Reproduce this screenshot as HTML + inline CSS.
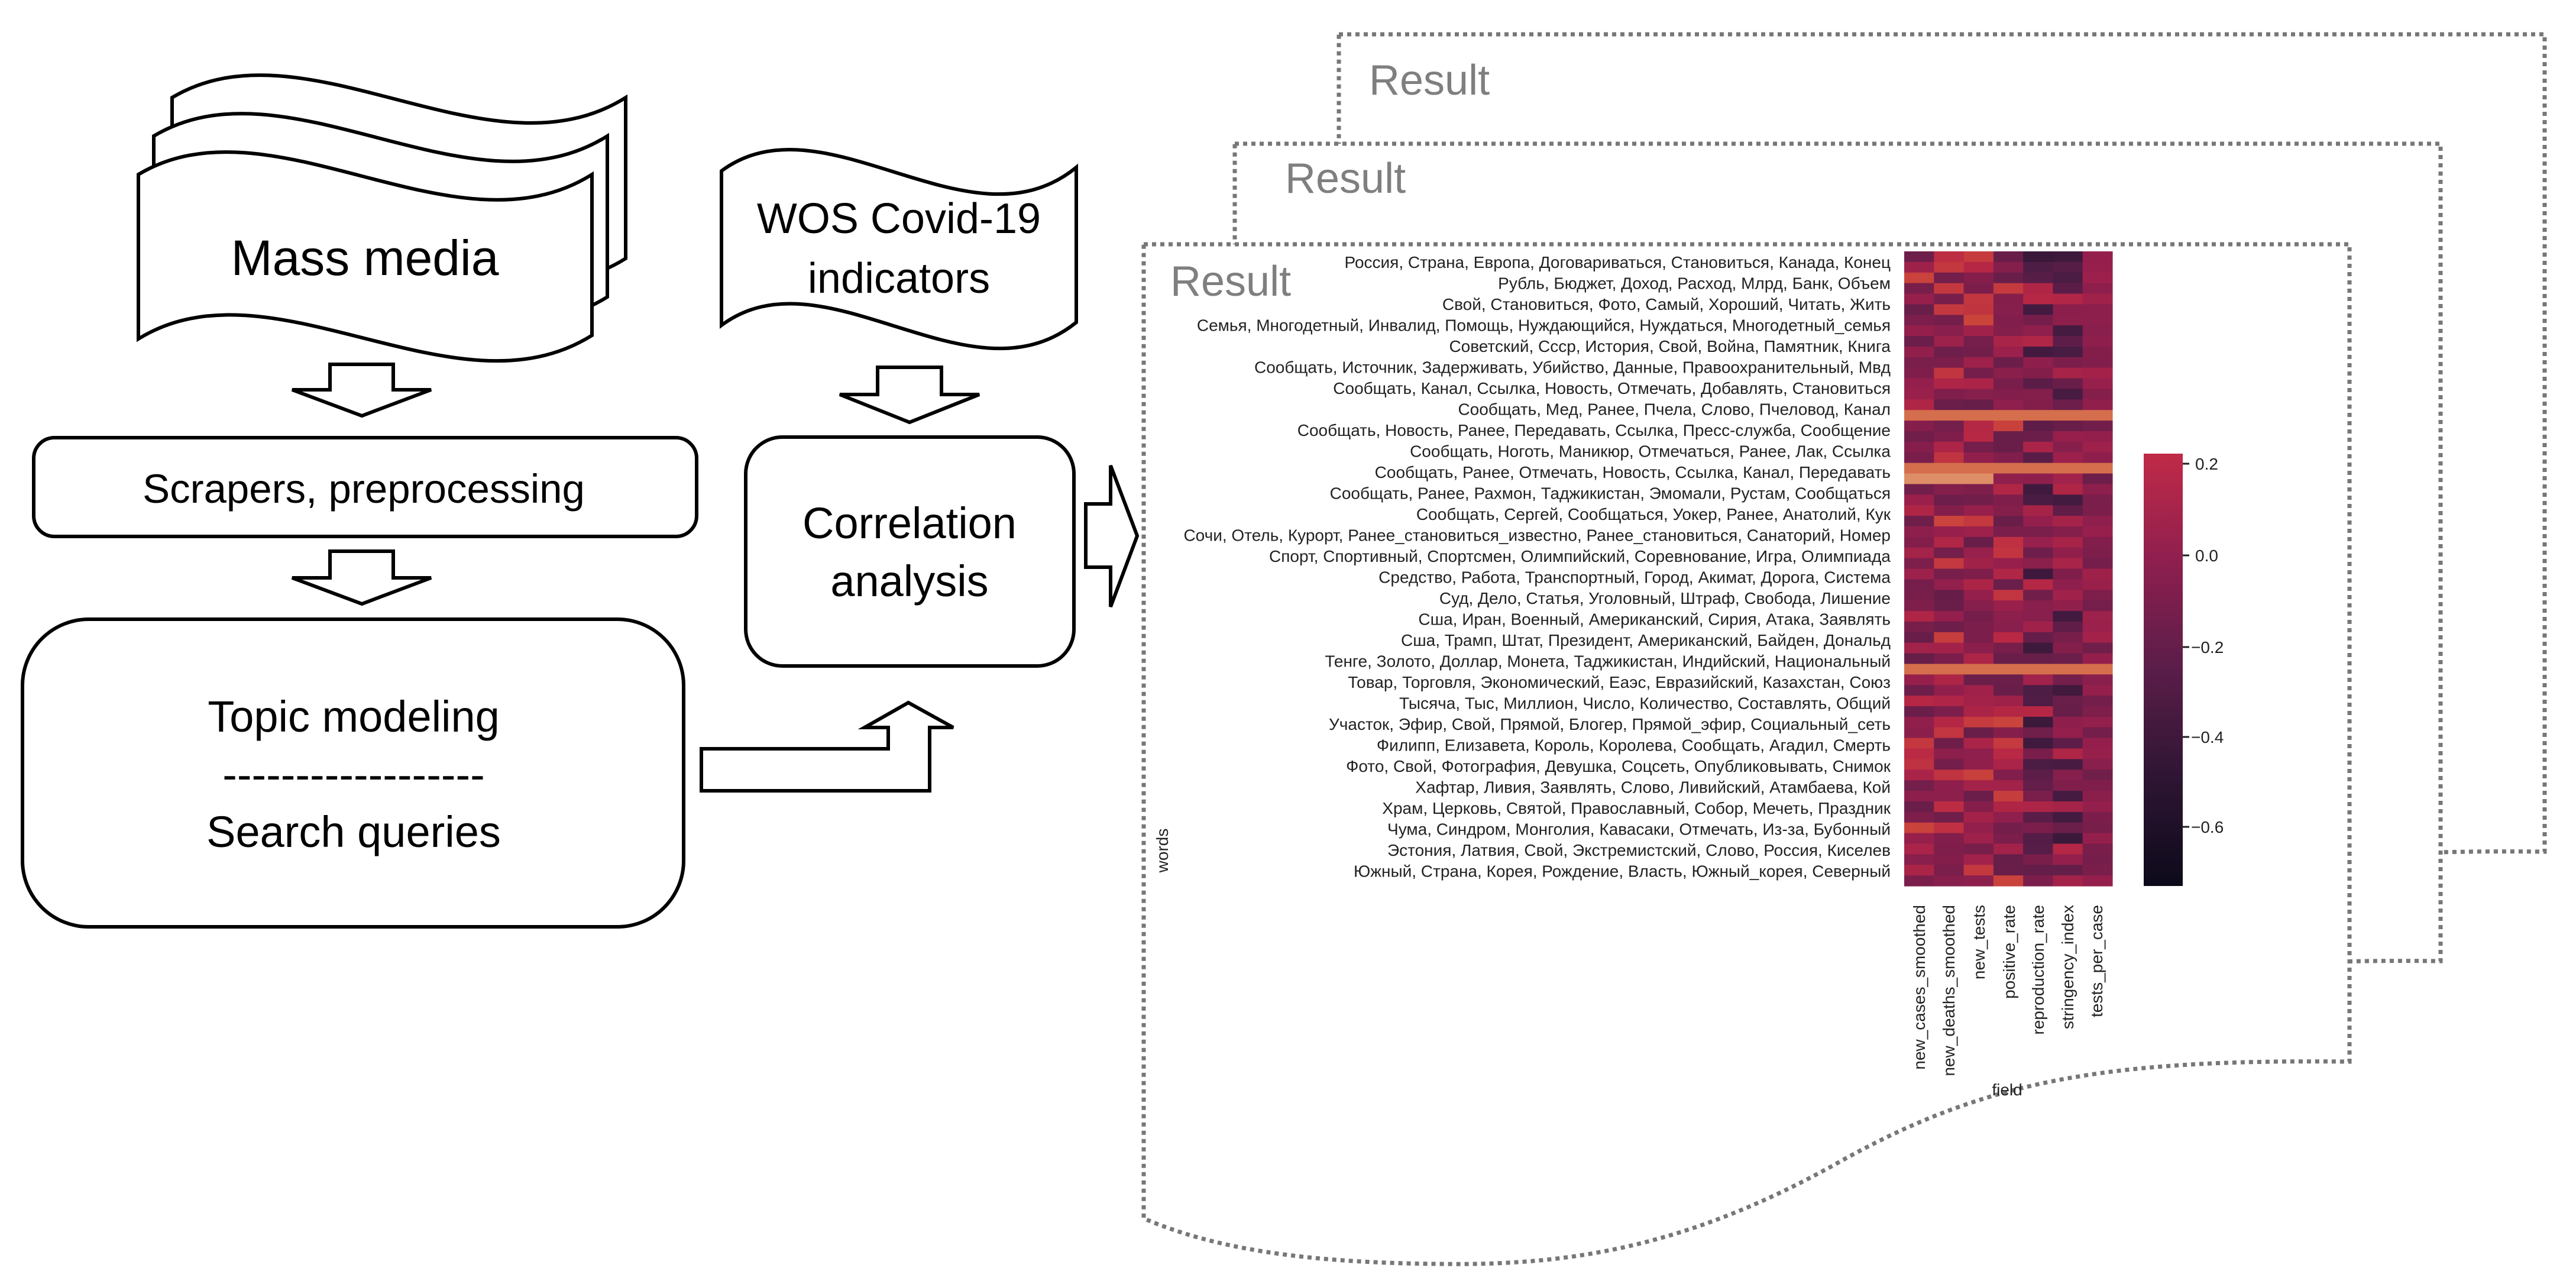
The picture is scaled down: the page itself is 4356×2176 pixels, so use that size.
<!DOCTYPE html>
<html><head><meta charset="utf-8">
<style>
html,body{margin:0;padding:0;background:#fff;}
svg{display:block;}
.lt{font-family:"Liberation Sans",sans-serif;fill:#000;}
.res{font-family:"Liberation Sans",sans-serif;fill:#7f7f7f;font-size:72px;}
.lab{font-family:"Liberation Sans","DejaVu Sans",sans-serif;fill:#222;font-size:28px;}
</style></head>
<body>
<svg id="s" width="4356" height="2176" viewBox="0 0 4356 2176" xmlns="http://www.w3.org/2000/svg">
<g fill="#fff" stroke="#000" stroke-width="6" stroke-linejoin="miter">
  <path transform="translate(57,-130)" d="M234,295 C460,160 770,440 1001,295 L1001,567 C770,712 460,433 234,573 Z"/>
  <path transform="translate(26,-65)" d="M234,295 C460,160 770,440 1001,295 L1001,567 C770,712 460,433 234,573 Z"/>
  <path d="M234,295 C460,160 770,440 1001,295 L1001,567 C770,712 460,433 234,573 Z"/>
  <path d="M1220,289 C1395,160 1640,430 1820,283 L1820,545 C1640,690 1395,420 1220,550 Z"/>
  <polygon points="558,616 665,616 665,659 729,659 612,703 494,659 558,659"/>
  <polygon points="558,932 665,932 665,977 729,977 612,1021 494,977 558,977"/>
  <polygon points="1484,621 1592,621 1592,667 1656,667 1538,714 1420,667 1484,667"/>
  <rect x="57" y="740" width="1121" height="167" rx="35"/>
  <rect x="38" y="1047" width="1118" height="520" rx="112"/>
  <rect x="1261" y="739" width="555" height="387" rx="62"/>
  <polygon points="1836,852 1878,852 1878,787 1923,906 1878,1026 1878,959 1836,959"/>
  <polygon points="1186,1266 1502,1266 1502,1230 1462,1230 1536,1188 1612,1230 1572,1230 1572,1337 1186,1337"/>
</g>
<g class="lt" text-anchor="middle">
  <text x="617" y="465" font-size="84">Mass media</text>
  <text x="1520" y="394" font-size="72">WOS Covid-19</text>
  <text x="1520" y="495" font-size="72">indicators</text>
  <text x="615" y="850" font-size="69">Scrapers, preprocessing</text>
  <text x="598" y="1237" font-size="74">Topic modeling</text>
  <text x="598" y="1335" font-size="74">------------------</text>
  <text x="598" y="1432" font-size="74">Search queries</text>
  <text x="1538" y="910" font-size="74">Correlation</text>
  <text x="1538" y="1008" font-size="74">analysis</text>
</g>
<g fill="#fff" stroke="#777" stroke-width="7" stroke-dasharray="7 7">
  <path transform="translate(330,-355)" d="M1934,413 H3973 V1795 C3550,1790 3350,1830 3106,1967 C2850,2110 2650,2140 2436,2137 C2200,2135 2050,2110 1934,2060 Z"/>
  <path transform="translate(154,-170)" d="M1934,413 H3973 V1795 C3550,1790 3350,1830 3106,1967 C2850,2110 2650,2140 2436,2137 C2200,2135 2050,2110 1934,2060 Z"/>
  <path d="M1934,413 H3973 V1795 C3550,1790 3350,1830 3106,1967 C2850,2110 2650,2140 2436,2137 C2200,2135 2050,2110 1934,2060 Z"/>
</g>
<text class="res" x="2315" y="160">Result</text>
<text class="res" x="2173" y="326">Result</text>
<text class="res" x="1979" y="500">Result</text>
<g id="hm"></g>
<g class="lab" text-anchor="end" id="labs"></g>
<defs>
<linearGradient id="cb" x1="0" y1="1" x2="0" y2="0">
<stop offset="0" stop-color="#0c0a1a"/>
<stop offset="0.25" stop-color="#2e1533"/>
<stop offset="0.5" stop-color="#5a1d49"/>
<stop offset="0.75" stop-color="#8e1f4f"/>
<stop offset="1" stop-color="#c02a47"/>
</linearGradient>
</defs>
<rect x="3625" y="767" width="66" height="731" fill="url(#cb)"/>
<g stroke="#222" stroke-width="3">
<line x1="3691" y1="784" x2="3702" y2="784"/>
<line x1="3691" y1="939" x2="3702" y2="939"/>
<line x1="3691" y1="1094" x2="3702" y2="1094"/>
<line x1="3691" y1="1246" x2="3702" y2="1246"/>
<line x1="3691" y1="1398" x2="3702" y2="1398"/>
</g>
<g class="lab">
<text x="3712" y="794">0.2</text>
<text x="3712" y="949">0.0</text>
<text x="3705" y="1104">−0.2</text>
<text x="3705" y="1256">−0.4</text>
<text x="3705" y="1408">−0.6</text>
</g>
<g class="lab" id="cols"></g>
<text class="lab" x="3394" y="1852" text-anchor="middle">field</text>
<text class="lab" transform="translate(1975,1438) rotate(-90)" text-anchor="middle">words</text>
</svg>
<script>
var NS="http://www.w3.org/2000/svg";
var labels=["Россия, Страна, Европа, Договариваться, Становиться, Канада, Конец",
"Рубль, Бюджет, Доход, Расход, Млрд, Банк, Объем",
"Свой, Становиться, Фото, Самый, Хороший, Читать, Жить",
"Семья, Многодетный, Инвалид, Помощь, Нуждающийся, Нуждаться, Многодетный_семья",
"Советский, Ссср, История, Свой, Война, Памятник, Книга",
"Сообщать, Источник, Задерживать, Убийство, Данные, Правоохранительный, Мвд",
"Сообщать, Канал, Ссылка, Новость, Отмечать, Добавлять, Становиться",
"Сообщать, Мед, Ранее, Пчела, Слово, Пчеловод, Канал",
"Сообщать, Новость, Ранее, Передавать, Ссылка, Пресс-служба, Сообщение",
"Сообщать, Ноготь, Маникюр, Отмечаться, Ранее, Лак, Ссылка",
"Сообщать, Ранее, Отмечать, Новость, Ссылка, Канал, Передавать",
"Сообщать, Ранее, Рахмон, Таджикистан, Эмомали, Рустам, Сообщаться",
"Сообщать, Сергей, Сообщаться, Уокер, Ранее, Анатолий, Кук",
"Сочи, Отель, Курорт, Ранее_становиться_известно, Ранее_становиться, Санаторий, Номер",
"Спорт, Спортивный, Спортсмен, Олимпийский, Соревнование, Игра, Олимпиада",
"Средство, Работа, Транспортный, Город, Акимат, Дорога, Система",
"Суд, Дело, Статья, Уголовный, Штраф, Свобода, Лишение",
"Сша, Иран, Военный, Американский, Сирия, Атака, Заявлять",
"Сша, Трамп, Штат, Президент, Американский, Байден, Дональд",
"Тенге, Золото, Доллар, Монета, Таджикистан, Индийский, Национальный",
"Товар, Торговля, Экономический, Еаэс, Евразийский, Казахстан, Союз",
"Тысяча, Тыс, Миллион, Число, Количество, Составлять, Общий",
"Участок, Эфир, Свой, Прямой, Блогер, Прямой_эфир, Социальный_сеть",
"Филипп, Елизавета, Король, Королева, Сообщать, Агадил, Смерть",
"Фото, Свой, Фотография, Девушка, Соцсеть, Опубликовывать, Снимок",
"Хафтар, Ливия, Заявлять, Слово, Ливийский, Атамбаева, Кой",
"Храм, Церковь, Святой, Православный, Собор, Мечеть, Праздник",
"Чума, Синдром, Монголия, Кавасаки, Отмечать, Из-за, Бубонный",
"Эстония, Латвия, Свой, Экстремистский, Слово, Россия, Киселев",
"Южный, Страна, Корея, Рождение, Власть, Южный_корея, Северный"];
var lg=document.getElementById("labs");
labels.forEach(function(t,i){var e=document.createElementNS(NS,"text");e.setAttribute("x",3197);e.setAttribute("y",(443+i*35.5+10).toFixed(1));e.textContent=t;lg.appendChild(e);});
var cols=["new_cases_smoothed","new_deaths_smoothed","new_tests","positive_rate","reproduction_rate","stringency_index","tests_per_case"];
var cg=document.getElementById("cols");
var cx=[3245,3295,3346,3397,3446,3496,3545];
cols.forEach(function(t,i){var e=document.createElementNS(NS,"text");e.setAttribute("transform","translate("+(cx[i]+10)+",1530) rotate(-90)");e.setAttribute("text-anchor","end");e.textContent=t;cg.appendChild(e);});
var seed=12345;function r(){seed=(seed*16807)%2147483647;return seed/2147483647;}
var stops=[[-0.7,[12,10,26]],[-0.5,[40,20,48]],[-0.3,[78,29,70]],[-0.1,[118,30,75]],[0.05,[150,31,76]],[0.18,[185,40,68]],[0.28,[205,72,58]],[0.38,[215,120,80]],[0.5,[235,185,145]]];
function col(v){if(v<=stops[0][0])return "rgb("+stops[0][1]+")";for(var k=1;k<stops.length;k++){if(v<=stops[k][0]){var a=stops[k-1],b=stops[k],f=(v-a[0])/(b[0]-a[0]);return "rgb("+[0,1,2].map(function(j){return Math.round(a[1][j]+(b[1][j]-a[1][j])*f);}).join(",")+")";}}return "rgb("+stops[stops.length-1][1]+")";}
var hm=document.getElementById("hm");
var x0=3220,y0=425,cw=352/7,rh=1073/60;
for(var i=0;i<60;i++){for(var j=0;j<7;j++){
 var v;
 if(j<4) v=0.02+(r()-0.45)*0.45;
 else if(j<6) v=-0.12+(r()-0.5)*0.6;
 else v=-0.02+(r()-0.5)*0.25;
 if(i==15||i==20||i==39) v=0.36;
 if(i==21&&j<3) v=0.42;
 var e=document.createElementNS(NS,"rect");
 e.setAttribute("x",(x0+j*cw).toFixed(2));e.setAttribute("y",(y0+i*rh).toFixed(2));
 e.setAttribute("width",(cw+0.6).toFixed(2));e.setAttribute("height",(rh+0.6).toFixed(2));
 e.setAttribute("fill",col(v));hm.appendChild(e);
}}
</script>
</body></html>
